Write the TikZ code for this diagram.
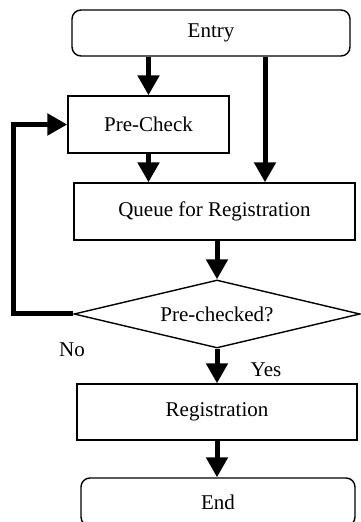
\documentclass[tikz,border=0pt]{standalone}
\usepackage{fontspec}
\setmainfont{Liberation Serif}
\usetikzlibrary{shapes.geometric,arrows.meta,positioning}

\begin{document}
\begin{tikzpicture}[x=1pt, y=1pt,
    box/.style = {draw, line width=1.4pt, inner sep=0pt, font=\fontsize{21}{24}\selectfont},
    terminal/.style = {box, rounded corners=9pt},
    decision/.style = {box, diamond, aspect=4.2},
    flow/.style = {line width=5pt, -{Triangle[width=21pt,length=20pt]}}]
    \useasboundingbox (0,0) rectangle (360,522);

    \node[terminal, minimum width=278pt, minimum height=46pt] (entry) at (211,489) {Entry};  % start
    \node[box, minimum width=161pt, minimum height=57pt] (pre) at (148.5,397.5) {Pre-Check};
    \node[box, minimum width=281pt, minimum height=57pt] (queue) at (214.5,310.5) {Queue for Registration};
    \node[decision, minimum width=286pt, minimum height=68pt] (check) at (217,208) {Pre-checked?};
    \node[box, minimum width=280pt, minimum height=56pt] (reg) at (217,110) {Registration};
    \node[terminal, minimum width=274pt, minimum height=48pt] (end) at (218,20) {End};
    \coordinate (bypass) at (265,0);
    \coordinate (loop) at (13,0);

    \node[font=\fontsize{21}{24}\selectfont] (no) at (72,172) {No};
    \node[font=\fontsize{21}{24}\selectfont] (yes) at (266,152) {Yes};

    \draw[flow] (entry.south -| pre.north) -- (pre.north);
    \draw[flow] (entry.south -| bypass) -- (queue.north -| bypass);
    \draw[flow] (pre.south) -- (queue.north -| pre.south);
    \draw[flow] (queue.south -| check.north) -- (check.north);
    \draw[flow] (check.west) -- (check.west -| loop) |- (pre.west);
    \draw[flow] (check.south) -- (reg.north -| check.south);
    \draw[flow] (reg.south -| check.south) -- (end.north -| check.south);
\end{tikzpicture}
\end{document}
